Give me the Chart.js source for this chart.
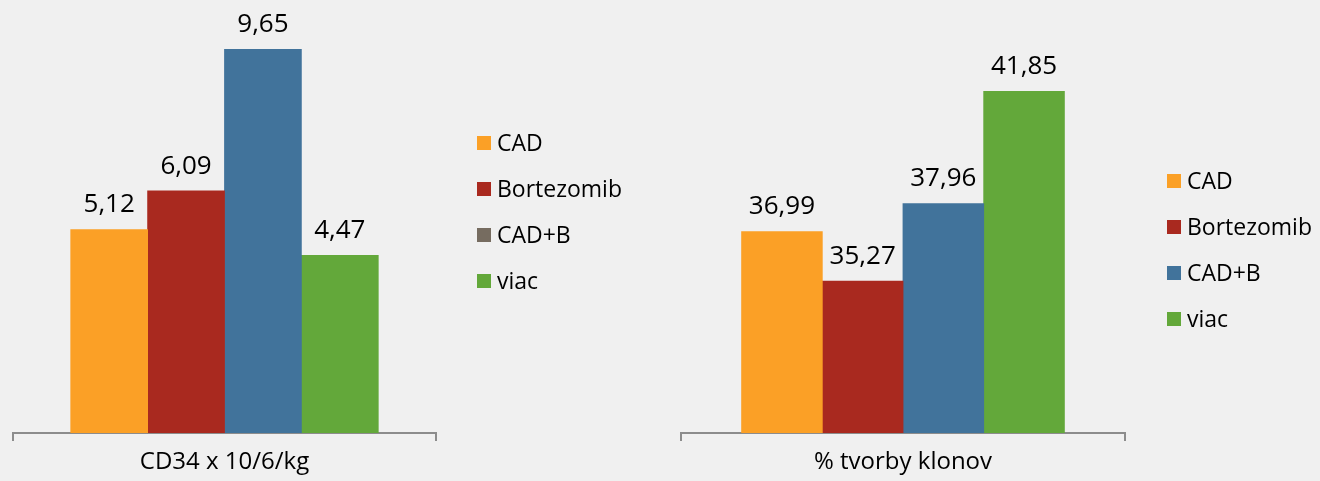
<!DOCTYPE html>
<html>
<head>
<meta charset="utf-8">
<script src="https://cdn.jsdelivr.net/npm/chart.js@4/dist/chart.umd.min.js"></script>
<style>
  html, body { margin: 0; padding: 0; background: #f0f0f0; }
  .box { position: absolute; top: 0; width: 660px; height: 481px; }
</style>
</head>
<body>
<div class="box" style="left:0"><canvas id="cd34"></canvas></div>
<div class="box" style="left:660px"><canvas id="klony"></canvas></div>
<script>
var series = ['CAD', 'Bortezomib', 'CAD+B', 'viac'];
var barColors = ['#fba026', '#a9291f', '#41739b', '#63a83a'];
var legendLeft = ['#fba026', '#a9291f', '#766c60', '#63a83a'];
var legendRight = ['#fba026', '#a9291f', '#41739b', '#63a83a'];

var cd34Title = ['CD34 x 10/6/kg'];
var cd34Values = [5.12, 6.09, 9.65, 4.47];
var klonyTitle = ['% tvorby klonov'];
var klonyValues = [36.99, 35.27, 37.96, 41.85];

var FONT = "'Open Sans', sans-serif";

/* hodnoty nad stlpcami */
var valueLabels = {
    id: 'valueLabels',
    afterDatasetsDraw: function (chart) {
        var ctx = chart.ctx;
        ctx.save();
        ctx.font = '26px ' + FONT;
        ctx.fillStyle = '#000';
        ctx.textAlign = 'center';
        ctx.textBaseline = 'alphabetic';
        chart.data.datasets.forEach(function (ds, i) {
            var bar = chart.getDatasetMeta(i).data[0];
            ctx.fillText(String(ds.data[0]).replace('.', ','), bar.x, bar.y - 17);
        });
        ctx.restore();
    }
};

/* legenda vpravo */
var sideLegend = {
    id: 'sideLegend',
    afterDraw: function (chart, args, opts) {
        var ctx = chart.ctx;
        ctx.save();
        ctx.font = '23px ' + FONT;
        ctx.textBaseline = 'middle';
        chart.data.datasets.forEach(function (ds, i) {
            var y = opts.y + i * 46;
            ctx.fillStyle = opts.colors[i];
            ctx.fillRect(opts.x, y - 7, 14, 14);
            ctx.fillStyle = '#000';
            ctx.fillText(ds.label, opts.x + 20, y + 1);
        });
        ctx.restore();
    }
};

function makeChart(id, title, values, yMin, yMax, pad, legendOpts) {
    var ctx = document.getElementById(id).getContext('2d');
    return new Chart(ctx, {
        type: 'bar',
        data: {
            labels: title,
            datasets: series.map(function (name, i) {
                return {
                    label: name,
                    data: [values[i]],
                    backgroundColor: barColors[i],
                    borderWidth: 0,
                    categoryPercentage: 0.727,
                    barPercentage: 1.01 // prekrytie, aby medzi stlpcami neboli svetle skary
                };
            })
        },
        options: {
            responsive: true,
            maintainAspectRatio: false,
            animation: false,
            layout: { padding: pad },
            plugins: {
                legend: { display: false },
                tooltip: { enabled: false },
                sideLegend: legendOpts
            },
            scales: {
                x: {
                    grid: { offset: true, drawOnChartArea: false, tickLength: 8, color: '#8c8c8c', lineWidth: 2 },
                    border: { color: '#8c8c8c', width: 2 },
                    ticks: { color: '#000', font: { family: FONT, size: 24 }, padding: 7 },
                    afterFit: function (scale) { scale.height = 48; }
                },
                y: { display: false, min: yMin, max: yMax }
            }
        },
        plugins: [valueLabels, sideLegend]
    });
}

makeChart('cd34', cd34Title, cd34Values, 0, 10,
    { left: 13, right: 224, top: 35, bottom: 0 },
    { x: 477, y: 143, colors: legendLeft });
makeChart('klony', klonyTitle, klonyValues, 30, 45,
    { left: 21, right: 195, top: 0, bottom: 0 },
    { x: 507, y: 181, colors: legendRight });
</script>
</body>
</html>
